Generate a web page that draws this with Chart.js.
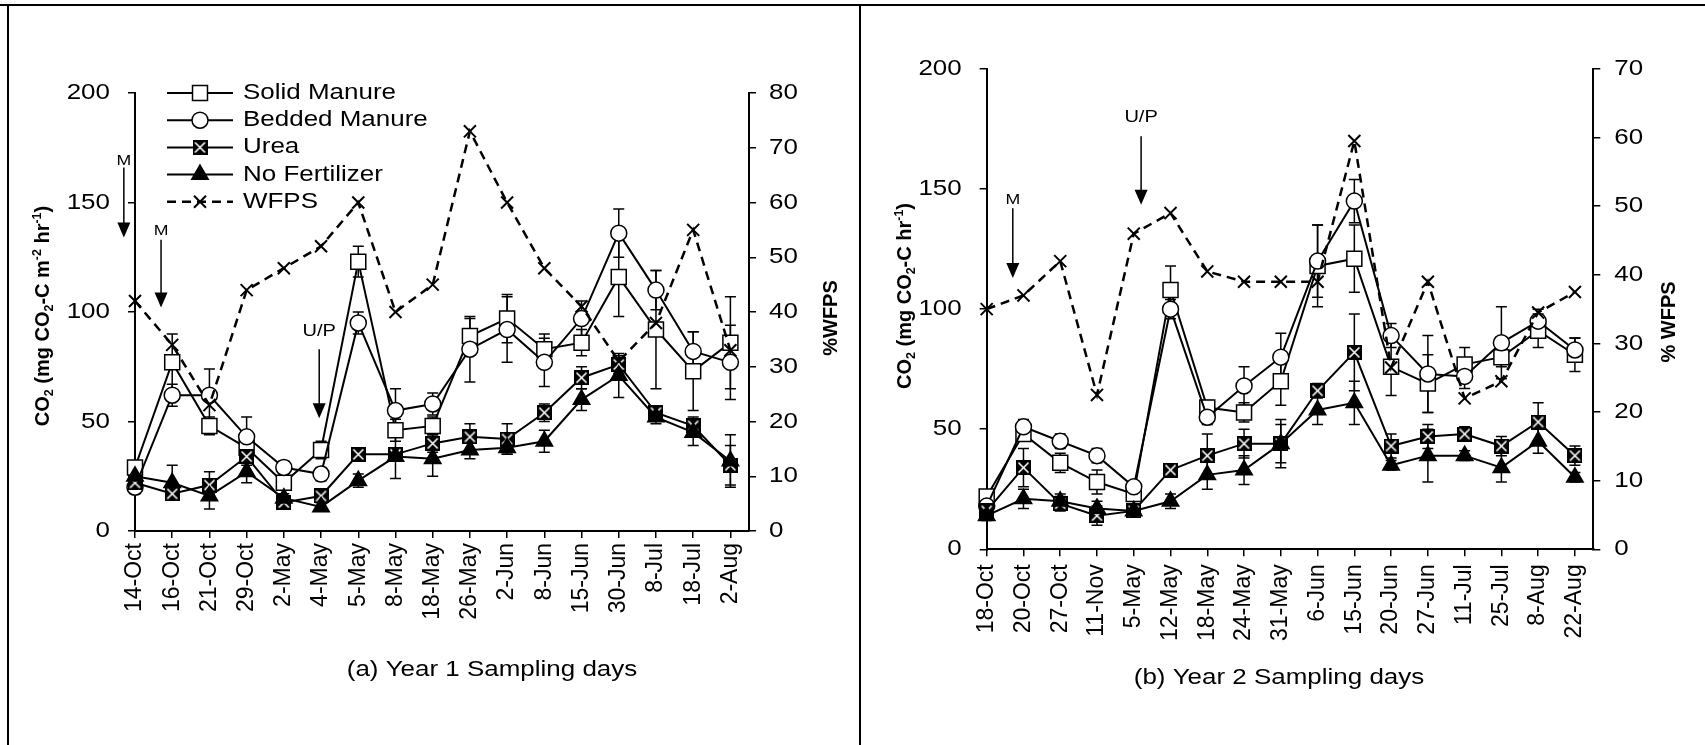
<!DOCTYPE html>
<html>
<head>
<meta charset="utf-8">
<script src="https://cdn.jsdelivr.net/npm/chart.js"></script>
<style>
  body { margin: 0; background: #fff; }
  #page { position: relative; width: 1705px; height: 745px; overflow: hidden; background: #fff; }
  #page canvas { position: absolute; top: 0; }
  .rule { position: absolute; background: #000; }
</style>
</head>
<body>
<div id="page">
  <canvas id="chartA" width="859" height="745" style="left:0"></canvas>
  <canvas id="chartB" width="844" height="745" style="left:861px"></canvas>
  <div class="rule" style="left:0;top:4px;width:1705px;height:2px"></div>
  <div class="rule" style="left:7px;top:4px;width:2px;height:741px"></div>
  <div class="rule" style="left:859px;top:4px;width:2px;height:741px"></div>
</div>
<script>
// sampling days
const daysY1 = ['14-Oct', '16-Oct', '21-Oct', '29-Oct', '2-May', '4-May', '5-May', '8-May', '18-May',
  '26-May', '2-Jun', '8-Jun', '15-Jun', '30-Jun', '8-Jul', '18-Jul', '2-Aug'];
const daysY2 = ['18-Oct', '20-Oct', '27-Oct', '11-Nov', '5-May', '12-May', '18-May', '24-May', '31-May',
  '6-Jun', '15-Jun', '20-Jun', '27-Jun', '11-Jul', '25-Jul', '8-Aug', '22-Aug'];

// CO2 flux, mg CO2-C m-2 hr-1 (year 1)
const solidY1 = [29, 77, 48, 38, 22, 37, 123, 46, 48, 89, 97, 83, 86, 116, 92, 73, 86];
const beddedY1 = [20, 62, 62, 43, 29, 26, 95, 55, 58, 83, 92, 77, 97, 136, 110, 82, 77];
const ureaY1 = [22, 17, 21, 34, 13, 16, 35, 35, 40, 43, 42, 54, 70, 76, 54, 48, 30];
const noFertY1 = [25, 22, 16, 27, 15, 11, 23, 34, 33, 37, 38, 41, 60, 71, 52, 45, 32];
const wfpsY1 = [42, 34, 23, 44, 48, 52, 60, 40, 45, 73, 60, 48, 41, 31, 38, 55, 33];

const solidErrY1 = [3, 13, 4, 5, 3, 4, 7, 5, 4, 8, 11, 7, 6, 18, 27, 18, 21];
const beddedErrY1 = [3, 5, 12, 9, 3, 3, 5, 10, 5, 15, 15, 11, 8, 11, 9, 9, 17];
const ureaErrY1 = [3, 3, 6, 4, 2, 3, 3, 3, 4, 6, 7, 4, 5, 4, 3, 4, 9];
const noFertErrY1 = [3, 8, 6, 5, 2, 2, 3, 10, 8, 4, 3, 5, 5, 10, 3, 6, 12];

// CO2 flux, mg CO2-C hr-1 (year 2)
const solidY2 = [22, 48, 36, 28, 23, 108, 59, 57, 70, 118, 121, 76, 69, 77, 80, 91, 81];
const beddedY2 = [18, 51, 45, 39, 26, 100, 55, 68, 80, 120, 145, 89, 73, 72, 86, 95, 83];
const ureaY2 = [16, 34, 19, 14, 16, 33, 39, 44, 44, 66, 82, 43, 47, 48, 43, 53, 39];
const noFertY2 = [14, 21, 20, 17, 16, 20, 31, 33, 44, 58, 61, 35, 39, 39, 34, 45, 30];
const wfpsY2 = [35, 37, 42, 22.5, 46, 49, 40.5, 39, 39, 39, 59.5, 26.5, 39, 22, 24.5, 34.5, 37.5];

const solidErrY2 = [2, 3, 4, 5, 3, 10, 3, 4, 10, 17, 14, 12, 12, 7, 4, 7, 7];
const beddedErrY2 = [2, 3, 3, 3, 2, 4, 3, 8, 10, 15, 9, 5, 16, 5, 15, 5, 5];
const ureaErrY2 = [2, 8, 3, 4, 2, 2, 9, 6, 10, 3, 16, 5, 5, 3, 4, 8, 4];
const noFertErrY2 = [2, 4, 3, 3, 2, 3, 6, 6, 8, 6, 9, 2, 11, 2, 6, 5, 2];

const seriesNames = ['Solid Manure', 'Bedded Manure', 'Urea', 'No Fertilizer', 'WFPS'];

const FONT = '"Liberation Sans", Arial, sans-serif';
const STRETCH = 1.18;

// black box with a white cross for the urea marker
function ureaMarker(s) {
  const c = document.createElement('canvas');
  c.width = c.height = s;
  const g = c.getContext('2d');
  g.fillStyle = '#000';
  g.fillRect(0, 0, s, s);
  g.strokeStyle = '#fff';
  g.lineWidth = 1.6;
  g.beginPath();
  g.moveTo(2.5, 2.5); g.lineTo(s - 2.5, s - 2.5);
  g.moveTo(s - 2.5, 2.5); g.lineTo(2.5, s - 2.5);
  g.stroke();
  return c;
}
const ureaIcon = ureaMarker(15);

function pts(values) {
  return values.map((v, i) => ({ x: i, y: v }));
}

function makeDatasets(solid, bedded, urea, noFert, wfps, errs) {
  const base = { borderColor: '#000', borderWidth: 2, tension: 0, clip: false, pointBorderWidth: 1.5,
    pointBorderColor: '#000', yAxisID: 'y' };
  return [
    { ...base, label: seriesNames[0], data: pts(solid), errors: errs[0], pointStyle: 'rect',
      pointRadius: 10.6, pointBackgroundColor: '#fff', order: 4 },
    { ...base, label: seriesNames[1], data: pts(bedded), errors: errs[1], pointStyle: 'circle',
      pointRadius: 8, pointBackgroundColor: '#fff', order: 3 },
    { ...base, label: seriesNames[2], data: pts(urea), errors: errs[2], pointStyle: ureaIcon,
      pointRadius: 8, order: 2 },
    { ...base, label: seriesNames[3], data: pts(noFert), errors: errs[3], pointStyle: 'triangle',
      pointRadius: 9.5, pointBackgroundColor: '#000', order: 1 },
    { ...base, label: seriesNames[4], data: pts(wfps), yAxisID: 'y1', pointStyle: 'crossRot',
      pointRadius: 8.5, pointBorderWidth: 2, borderWidth: 2.5, borderDash: [9, 6], order: 0 }
  ];
}

function stretchedText(ctx, text, x, y, size, align, bold) {
  ctx.save();
  ctx.font = (bold ? 'bold ' : '') + size + 'px ' + FONT;
  ctx.textBaseline = 'middle';
  ctx.textAlign = 'left';
  const w = ctx.measureText(text).width * STRETCH;
  const x0 = align === 'center' ? x - w / 2 : align === 'right' ? x - w : x;
  ctx.translate(x0, y);
  ctx.scale(STRETCH, 1);
  ctx.fillStyle = '#000';
  ctx.fillText(text, 0, 0);
  ctx.restore();
}

// rotated bold title with sub/superscripts: parts are [text, -1 sub | 0 | 1 sup]
function richTitle(ctx, parts, cx, cy, size) {
  ctx.save();
  ctx.translate(cx, cy);
  ctx.rotate(-Math.PI / 2);
  ctx.fillStyle = '#000';
  ctx.textBaseline = 'alphabetic';
  ctx.textAlign = 'left';
  const sized = parts.map(([t, k]) => {
    const s = k ? size * 0.62 : size;
    ctx.font = 'bold ' + s + 'px ' + FONT;
    return { t, k, s, w: ctx.measureText(t).width };
  });
  let x = -sized.reduce((a, p) => a + p.w, 0) / 2;
  const base = size * 0.36;
  sized.forEach(p => {
    ctx.font = 'bold ' + p.s + 'px ' + FONT;
    const dy = p.k < 0 ? size * 0.2 : p.k > 0 ? -size * 0.4 : 0;
    ctx.fillText(p.t, x, base + dy);
    x += p.w;
  });
  ctx.restore();
}

const errorBars = {
  id: 'errorBars',
  beforeDatasetsDraw(chart) {
    const ctx = chart.ctx;
    chart.data.datasets.forEach((ds, i) => {
      if (!ds.errors) return;
      const meta = chart.getDatasetMeta(i);
      const ys = chart.scales[meta.yAxisID];
      ctx.save();
      ctx.strokeStyle = '#000';
      ctx.lineWidth = 1.5;
      meta.data.forEach((pt, j) => {
        const v = ds.data[j].y, e = ds.errors[j];
        if (!e) return;
        const top = ys.getPixelForValue(v + e), bot = ys.getPixelForValue(v - e);
        ctx.beginPath();
        ctx.moveTo(pt.x, top); ctx.lineTo(pt.x, bot);
        ctx.moveTo(pt.x - 5.5, top); ctx.lineTo(pt.x + 5.5, top);
        ctx.moveTo(pt.x - 5.5, bot); ctx.lineTo(pt.x + 5.5, bot);
        ctx.stroke();
      });
      ctx.restore();
    });
  }
};

function drawLegend(chart, lg) {
  const ctx = chart.ctx;
  chart.data.datasets.forEach((ds, i) => {
    const y = lg.top + i * lg.step;
    ctx.save();
    ctx.strokeStyle = '#000';
    ctx.lineWidth = ds.borderWidth;
    ctx.setLineDash(ds.borderDash || []);
    ctx.beginPath();
    ctx.moveTo(lg.x0, y); ctx.lineTo(lg.x1, y);
    ctx.stroke();
    ctx.setLineDash([]);
    ctx.fillStyle = ds.pointBackgroundColor || '#000';
    ctx.strokeStyle = '#000';
    ctx.lineWidth = ds.pointBorderWidth;
    Chart.helpers.drawPoint(ctx, { pointStyle: ds.pointStyle, radius: ds.pointRadius, rotation: 0,
      borderWidth: ds.pointBorderWidth }, (lg.x0 + lg.x1) / 2, y);
    ctx.restore();
    stretchedText(ctx, ds.label, lg.textX, y, 22, 'left');
  });
}

function drawArrow(ctx, x, yFrom, yTip) {
  ctx.save();
  ctx.strokeStyle = '#000';
  ctx.fillStyle = '#000';
  ctx.lineWidth = 1.5;
  ctx.beginPath();
  ctx.moveTo(x, yFrom); ctx.lineTo(x, yTip - 12);
  ctx.stroke();
  ctx.beginPath();
  ctx.moveTo(x - 6.5, yTip - 15); ctx.lineTo(x + 6.5, yTip - 15); ctx.lineTo(x, yTip);
  ctx.closePath();
  ctx.fill();
  ctx.restore();
}

const decor = {
  id: 'decor',
  afterDraw(chart, args, o) {
    const ctx = chart.ctx;
    const { left, right } = chart.chartArea;
    const yL = chart.scales.y, yR = chart.scales.y1, xs = chart.scales.x;
    yL.ticks.forEach(t => stretchedText(ctx, String(t.value), left - o.gapLeft, yL.getPixelForValue(t.value), 22, 'right'));
    yR.ticks.forEach(t => stretchedText(ctx, String(t.value), right + o.gapRight, yR.getPixelForValue(t.value), 22, 'left'));
    richTitle(ctx, o.leftTitle, o.leftTitleAt[0], o.leftTitleAt[1], 20);
    richTitle(ctx, [[o.rightTitle, 0]], o.rightTitleAt[0], o.rightTitleAt[1], 20);
    stretchedText(ctx, o.xTitle, o.xTitleAt[0], o.xTitleAt[1], 22, 'center');
    o.notes.forEach(n => {
      const px = xs.getPixelForValue(n.x);
      stretchedText(ctx, n.text, px, yL.getPixelForValue(n.yText), n.size, 'center');
      drawArrow(ctx, px, yL.getPixelForValue(n.yFrom), yL.getPixelForValue(n.yTip));
    });
    if (o.legend) drawLegend(chart, o.legend);
  }
};

function panelOptions(days, yRightMax, box, deco) {
  const tickGrid = { drawOnChartArea: false, drawTicks: true, tickLength: 7, color: '#000', lineWidth: 1.5 };
  const border = { display: true, color: '#000', width: 2 };
  return {
    responsive: false,
    animation: false,
    events: [],
    layout: { padding: { left: 0, right: 0, top: box.top, bottom: 0 } },
    scales: {
      x: {
        type: 'linear', min: 0, max: days.length - 0.5,
        afterBuildTicks: s => { s.ticks = days.map((d, i) => ({ value: i })); },
        afterFit: s => { s.height = box.xHeight; },
        grid: tickGrid, border,
        ticks: { autoSkip: false, minRotation: 90, maxRotation: 90, padding: box.xPad, color: '#000',
          font: { family: FONT, size: 23 }, callback: v => days[Math.round(v)] }
      },
      y: {
        position: 'left', min: 0, max: 200,
        afterBuildTicks: s => { s.ticks = [0, 50, 100, 150, 200].map(v => ({ value: v })); },
        afterFit: s => { s.width = box.yLeft; },
        grid: tickGrid, border, ticks: { display: false }
      },
      y1: {
        position: 'right', min: 0, max: yRightMax,
        afterBuildTicks: s => {
          const t = [];
          for (let v = 0; v <= yRightMax; v += 10) t.push({ value: v });
          s.ticks = t;
        },
        afterFit: s => { s.width = box.yRight; },
        grid: tickGrid, border, ticks: { display: false }
      }
    },
    plugins: { legend: { display: false }, tooltip: { enabled: false }, decor: deco }
  };
}

new Chart(document.getElementById('chartA'), {
  type: 'line',
  data: { datasets: makeDatasets(solidY1, beddedY1, ureaY1, noFertY1, wfpsY1,
    [solidErrY1, beddedErrY1, ureaErrY1, noFertErrY1]) },
  options: panelOptions(daysY1, 80, { top: 93, xHeight: 214, xPad: 5, yLeft: 135, yRight: 110 }, {
    gapLeft: 25, gapRight: 20,
    leftTitle: [['CO', 0], ['2', -1], [' (mg CO', 0], ['2', -1], ['-C m', 0], ['-2', 1], [' hr', 0], ['-1', 1], [')', 0]],
    leftTitleAt: [42, 316],
    rightTitle: '%WFPS', rightTitleAt: [830, 318],
    xTitle: '(a) Year 1 Sampling days', xTitleAt: [492, 670],
    notes: [
      { text: 'M', x: -0.3, yText: 169, yFrom: 166, yTip: 134, size: 15 },
      { text: 'M', x: 0.7, yText: 137, yFrom: 133, yTip: 102, size: 15 },
      { text: 'U/P', x: 4.95, yText: 91, yFrom: 83, yTip: 51.5, size: 17 }
    ],
    legend: { x0: 167, x1: 233, textX: 243, top: 93, step: 27.2 }
  }),
  plugins: [errorBars, decor]
});

new Chart(document.getElementById('chartB'), {
  type: 'line',
  data: { datasets: makeDatasets(solidY2, beddedY2, ureaY2, noFertY2, wfpsY2,
    [solidErrY2, beddedErrY2, ureaErrY2, noFertErrY2]) },
  options: panelOptions(daysY2, 70, { top: 69, xHeight: 195.7, xPad: 8, yLeft: 125.7, yRight: 111.7 }, {
    gapLeft: 25, gapRight: 21,
    leftTitle: [['CO', 0], ['2', -1], [' (mg CO', 0], ['2', -1], ['-C hr', 0], ['-1', 1], [')', 0]],
    leftTitleAt: [43, 296],
    rightTitle: '% WFPS', rightTitleAt: [807, 322],
    xTitle: '(b) Year 2 Sampling days', xTitleAt: [418, 678],
    notes: [
      { text: 'M', x: 0.71, yText: 145.5, yFrom: 142, yTip: 113, size: 15 },
      { text: 'U/P', x: 4.2, yText: 180, yFrom: 172, yTip: 143.5, size: 17 }
    ]
  }),
  plugins: [errorBars, decor]
});
</script>
</body>
</html>
